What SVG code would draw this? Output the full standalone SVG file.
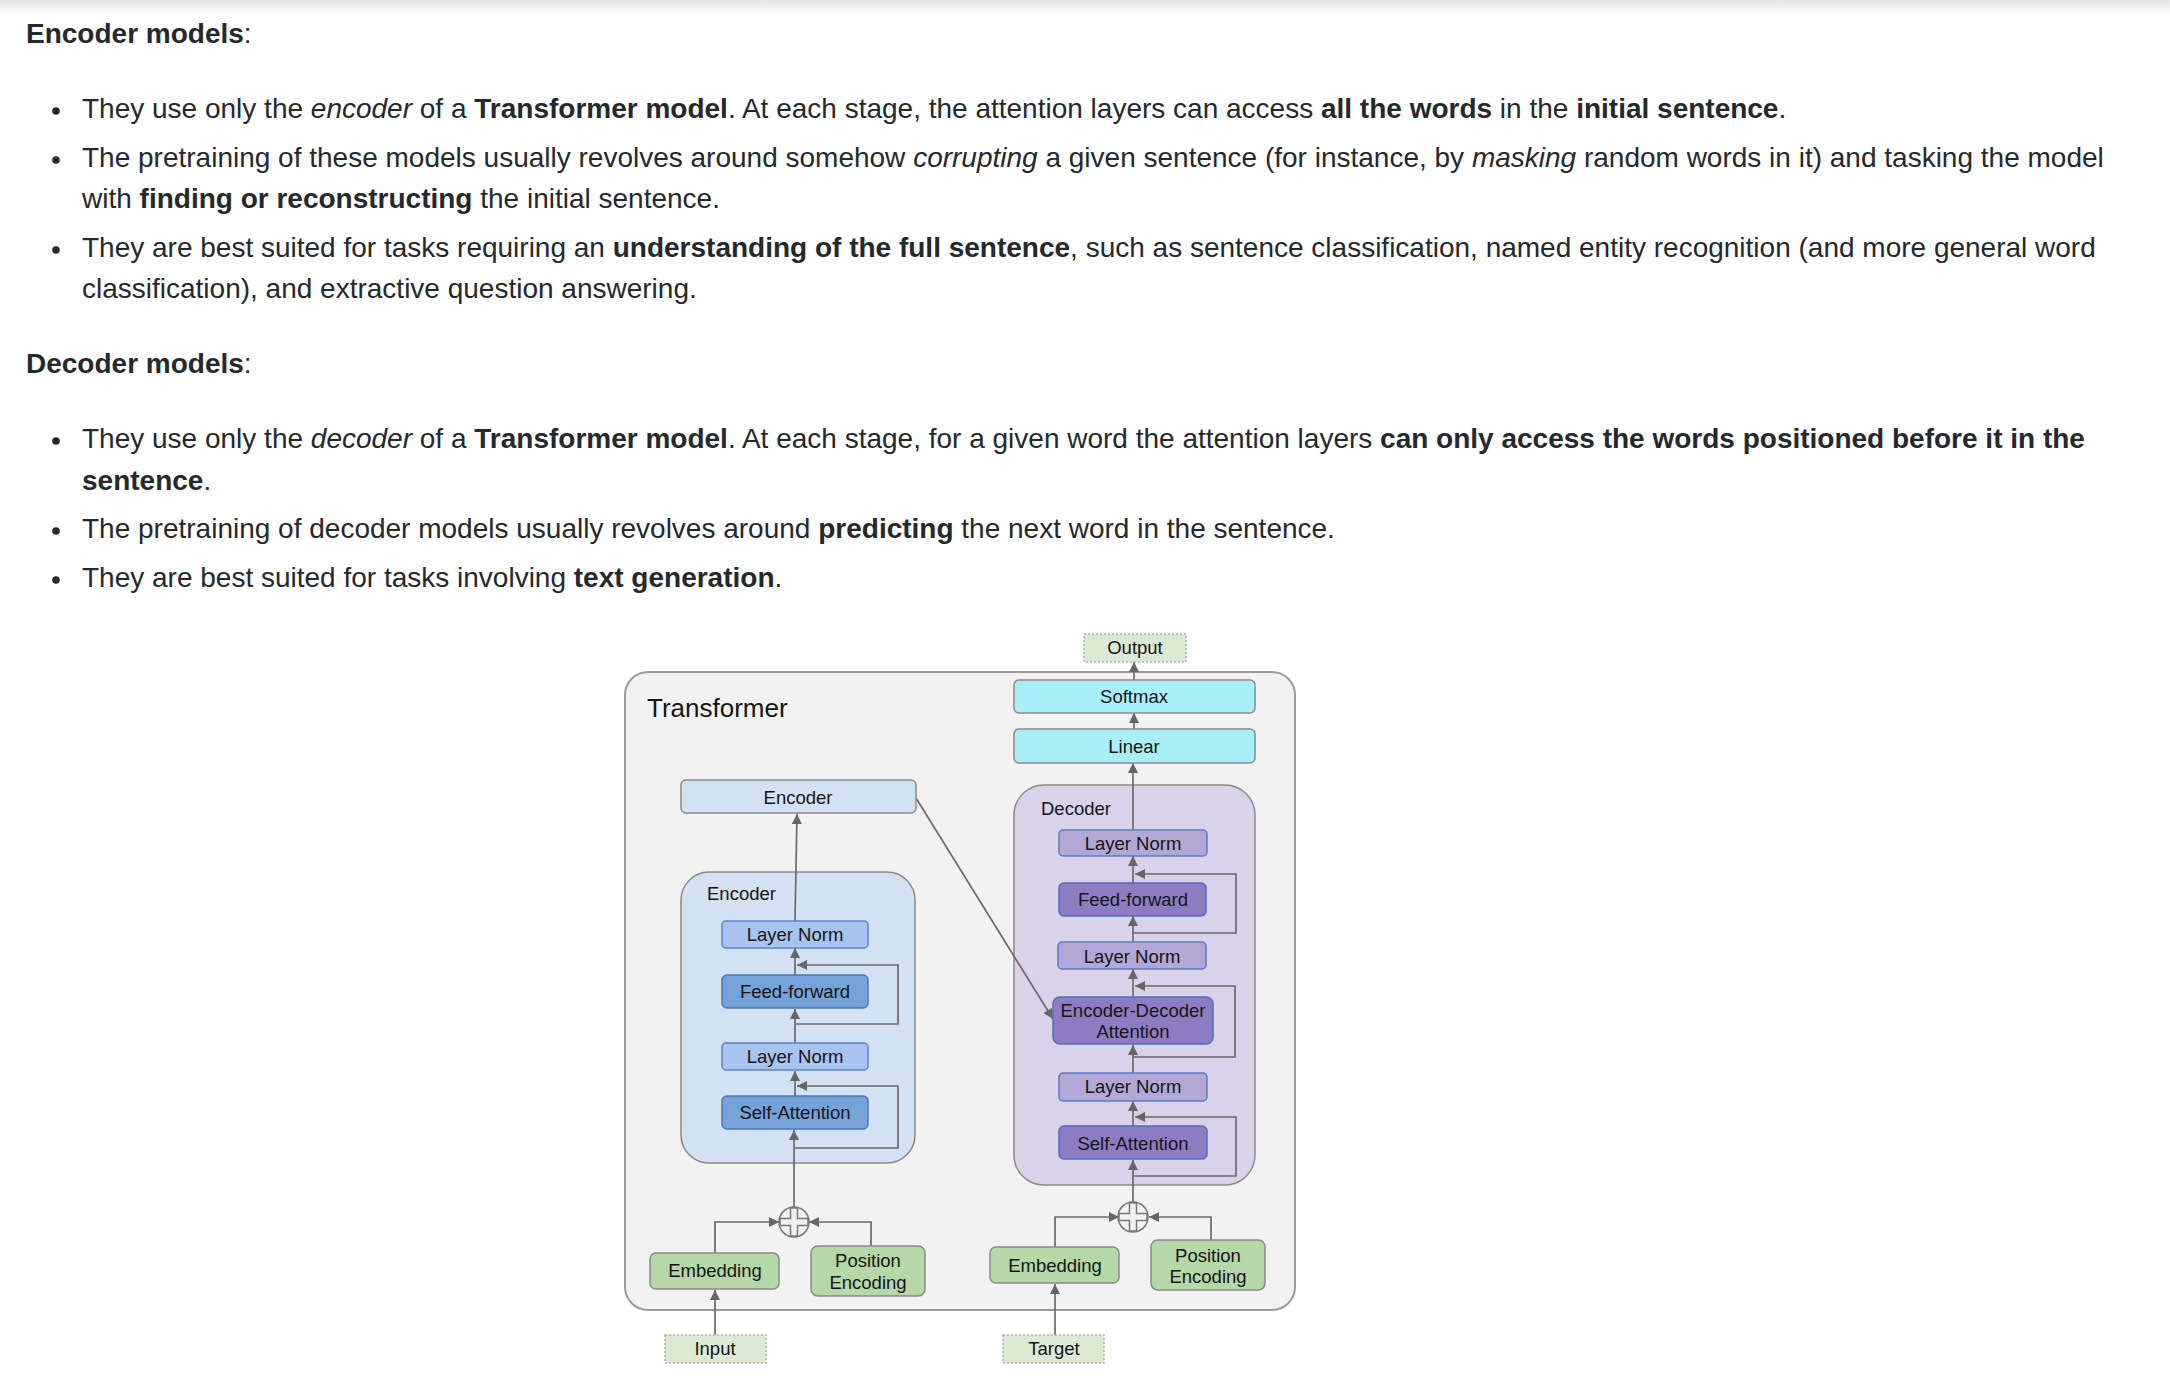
<svg xmlns="http://www.w3.org/2000/svg" width="2170" height="1390" viewBox="0 0 2170 1390">
<defs>
<linearGradient id="topShade" x1="0" y1="0" x2="0" y2="1">
<stop offset="0" stop-color="#e4e4e4"/>
<stop offset="1" stop-color="#ffffff"/>
</linearGradient>
<marker id="ah" viewBox="0 0 10 10" refX="10" refY="5" markerWidth="11" markerHeight="10" markerUnits="userSpaceOnUse" orient="auto">
<path d="M0,0 L10,5 L0,10 Z" fill="#666"/>
</marker>
</defs>
<style>
.page{font-family:"Liberation Sans",Arial,Helvetica,sans-serif;font-size:28px;fill:#24292e}
.b{font-weight:bold}
.i{font-style:italic}
.dg{font-family:"Liberation Sans",Arial,Helvetica,sans-serif;font-size:18.5px;fill:#151515}
.ctr{text-anchor:middle}
.outer{fill:#f2f2f2;stroke:#9a9a9a;stroke-width:2}
.encbox{fill:#d3e1f2;stroke:#8a8a8a;stroke-width:1.5}
.decbox{fill:#d9d2e9;stroke:#8a8a8a;stroke-width:1.5}
.eln{fill:#a9c3f0;stroke:#5a84cc;stroke-width:1.5}
.edk{fill:#74a2d9;stroke:#4a76bd;stroke-width:1.5}
.dln{fill:#b3a7d6;stroke:#5a7ec6;stroke-width:1.5}
.ddk{fill:#8e7cc3;stroke:#4e6fbe;stroke-width:1.5}
.cyan{fill:#a9eff8;stroke:#8a8a8a;stroke-width:1.5}
.grn{fill:#b6d7a8;stroke:#8a8a8a;stroke-width:1.5}
.io{fill:#dce9d4;stroke:#a5b59c;stroke-width:1.5;stroke-dasharray:2 2}
.conn{fill:none;stroke:#6a6a6a;stroke-width:1.7}
.arr{marker-end:url(#ah)}
.add{fill:#f2f2f2;stroke:#777;stroke-width:1.5}
</style>
<rect x="0" y="0" width="2170" height="1390" fill="#ffffff"/>
<rect x="0" y="0" width="2170" height="14" fill="url(#topShade)"/>

<g id="page-text" class="page">
<text x="26" y="43"><tspan class="b">Encoder models</tspan>:</text>
<circle cx="56" cy="111" r="3.8" fill="#24292e"/>
<text x="82" y="118">They use only the <tspan class="i">encoder</tspan> of a <tspan class="b">Transformer model</tspan>. At each stage, the attention layers can access <tspan class="b">all the words</tspan> in the <tspan class="b">initial sentence</tspan>.</text>
<circle cx="56" cy="160" r="3.8" fill="#24292e"/>
<text x="82" y="167">The pretraining of these models usually revolves around somehow <tspan class="i">corrupting</tspan> a given sentence (for instance, by <tspan class="i">masking</tspan> random words in it) and tasking the model</text>
<text x="82" y="208">with <tspan class="b">finding or reconstructing</tspan> the initial sentence.</text>
<circle cx="56" cy="250" r="3.8" fill="#24292e"/>
<text x="82" y="257">They are best suited for tasks requiring an <tspan class="b">understanding of the full sentence</tspan>, such as sentence classification, named entity recognition (and more general word</text>
<text x="82" y="298">classification), and extractive question answering.</text>
<text x="26" y="373"><tspan class="b">Decoder models</tspan>:</text>
<circle cx="56" cy="441" r="3.8" fill="#24292e"/>
<text x="82" y="448">They use only the <tspan class="i">decoder</tspan> of a <tspan class="b">Transformer model</tspan>. At each stage, for a given word the attention layers <tspan class="b">can only access the words positioned before it in the</tspan></text>
<text x="82" y="490"><tspan class="b">sentence</tspan>.</text>
<circle cx="56" cy="531" r="3.8" fill="#24292e"/>
<text x="82" y="538">The pretraining of decoder models usually revolves around <tspan class="b">predicting</tspan> the next word in the sentence.</text>
<circle cx="56" cy="580" r="3.8" fill="#24292e"/>
<text x="82" y="587">They are best suited for tasks involving <tspan class="b">text generation</tspan>.</text>
</g>

<g id="transformer">
<rect class="outer" x="625" y="672" width="670" height="638" rx="23"/>
<text class="dg" x="647" y="717" style="font-size:26px">Transformer</text>
</g>

<g id="encoder-stack">
<rect class="encbox" x="681" y="872" width="234" height="291" rx="28"/>
<text class="dg" x="707" y="900">Encoder</text>
</g>
<g id="decoder-stack">
<rect class="decbox" x="1014" y="785" width="241" height="400" rx="30"/>
<text class="dg" x="1041" y="815">Decoder</text>
</g>

<g id="connectors">
<path class="conn arr" d="M715,1335 V1290"/>
<path class="conn arr" d="M715,1253 V1222 H779"/>
<path class="conn arr" d="M871,1246 V1222 H809"/>
<path class="conn arr" d="M794,1208 V1130"/>
<path class="conn arr" d="M795,1148 H898 V1086 H797"/>
<path class="conn arr" d="M795,1096 V1071"/>
<path class="conn arr" d="M795,1043 V1009"/>
<path class="conn arr" d="M795,1024 H898 V965 H797"/>
<path class="conn arr" d="M795,975 V948"/>
<path class="conn arr" d="M795,921 L797,814"/>
<path class="conn arr" d="M916,798 L1053,1019"/>
<path class="conn arr" d="M1055,1335 V1284"/>
<path class="conn arr" d="M1055,1247 V1217 H1119"/>
<path class="conn arr" d="M1211,1240 V1217 H1149"/>
<path class="conn arr" d="M1133,1202 V1160"/>
<path class="conn arr" d="M1133,1176 H1236 V1117 H1135"/>
<path class="conn arr" d="M1133,1126 V1101"/>
<path class="conn arr" d="M1133,1073 V1045"/>
<path class="conn arr" d="M1133,1057 H1235 V986 H1135"/>
<path class="conn arr" d="M1133,997 V969"/>
<path class="conn arr" d="M1133,942 V916"/>
<path class="conn arr" d="M1133,933 H1236 V874 H1135"/>
<path class="conn arr" d="M1133,883 V856"/>
<path class="conn arr" d="M1133,830 V763"/>
<path class="conn arr" d="M1134,729 V713"/>
<path class="conn arr" d="M1134,680 V662"/>
</g>

<g id="enc-top">
<rect class="encbox" x="681" y="780" width="235" height="33" rx="5"/>
<text class="dg ctr" x="798" y="804">Encoder</text>
</g>
<g id="enc-ln1">
<rect class="eln" x="722" y="921" width="146" height="27" rx="4"/>
<text class="dg ctr" x="795" y="941">Layer Norm</text>
</g>
<g id="enc-ff">
<rect class="edk" x="722" y="975" width="146" height="33" rx="5"/>
<text class="dg ctr" x="795" y="998">Feed-forward</text>
</g>
<g id="enc-ln2">
<rect class="eln" x="722" y="1043" width="146" height="27" rx="4"/>
<text class="dg ctr" x="795" y="1063">Layer Norm</text>
</g>
<g id="enc-sa">
<rect class="edk" x="722" y="1096" width="146" height="33" rx="5"/>
<text class="dg ctr" x="795" y="1119">Self-Attention</text>
</g>
<g id="enc-add">
<circle class="add" cx="794" cy="1222" r="15"/>
<path class="add" style="fill:none" d="M790.5,1208 H797.5 V1218.5 H808 V1225.5 H797.5 V1236 H790.5 V1225.5 H780 V1218.5 H790.5 Z"/>
</g>
<g id="enc-emb">
<rect class="grn" x="650" y="1253" width="129" height="36" rx="6"/>
<text class="dg ctr" x="715" y="1277">Embedding</text>
</g>
<g id="enc-pe">
<rect class="grn" x="811" y="1246" width="114" height="50" rx="7"/>
<text class="dg ctr" x="868" y="1267">Position</text>
<text class="dg ctr" x="868" y="1289">Encoding</text>
</g>
<g id="input">
<rect class="io" x="665" y="1335" width="101" height="28"/>
<text class="dg ctr" x="715" y="1355">Input</text>
</g>

<g id="output">
<rect class="io" x="1084" y="634" width="102" height="28"/>
<text class="dg ctr" x="1135" y="654">Output</text>
</g>
<g id="softmax">
<rect class="cyan" x="1014" y="680" width="241" height="33" rx="5"/>
<text class="dg ctr" x="1134" y="703">Softmax</text>
</g>
<g id="linear">
<rect class="cyan" x="1014" y="729" width="241" height="34" rx="5"/>
<text class="dg ctr" x="1134" y="753">Linear</text>
</g>
<g id="dec-ln1">
<rect class="dln" x="1059" y="830" width="148" height="26" rx="4"/>
<text class="dg ctr" x="1133" y="850">Layer Norm</text>
</g>
<g id="dec-ff">
<rect class="ddk" x="1059" y="883" width="147" height="33" rx="5"/>
<text class="dg ctr" x="1133" y="906">Feed-forward</text>
</g>
<g id="dec-ln2">
<rect class="dln" x="1058" y="942" width="148" height="27" rx="4"/>
<text class="dg ctr" x="1132" y="963">Layer Norm</text>
</g>
<g id="dec-eda">
<rect class="ddk" x="1053" y="997" width="160" height="47" rx="7"/>
<text class="dg ctr" x="1133" y="1017">Encoder-Decoder</text>
<text class="dg ctr" x="1133" y="1038">Attention</text>
</g>
<g id="dec-ln3">
<rect class="dln" x="1059" y="1073" width="148" height="28" rx="4"/>
<text class="dg ctr" x="1133" y="1093">Layer Norm</text>
</g>
<g id="dec-sa">
<rect class="ddk" x="1059" y="1126" width="148" height="33" rx="5"/>
<text class="dg ctr" x="1133" y="1150">Self-Attention</text>
</g>
<g id="dec-add">
<circle class="add" cx="1133" cy="1217" r="15"/>
<path class="add" style="fill:none" d="M1129.5,1203 H1136.5 V1213.5 H1147 V1220.5 H1136.5 V1231 H1129.5 V1220.5 H1119 V1213.5 H1129.5 Z"/>
</g>
<g id="dec-emb">
<rect class="grn" x="990" y="1247" width="129" height="36" rx="6"/>
<text class="dg ctr" x="1055" y="1272">Embedding</text>
</g>
<g id="dec-pe">
<rect class="grn" x="1151" y="1240" width="114" height="50" rx="7"/>
<text class="dg ctr" x="1208" y="1262">Position</text>
<text class="dg ctr" x="1208" y="1283">Encoding</text>
</g>
<g id="target">
<rect class="io" x="1003" y="1335" width="101" height="28"/>
<text class="dg ctr" x="1054" y="1355">Target</text>
</g>
</svg>
